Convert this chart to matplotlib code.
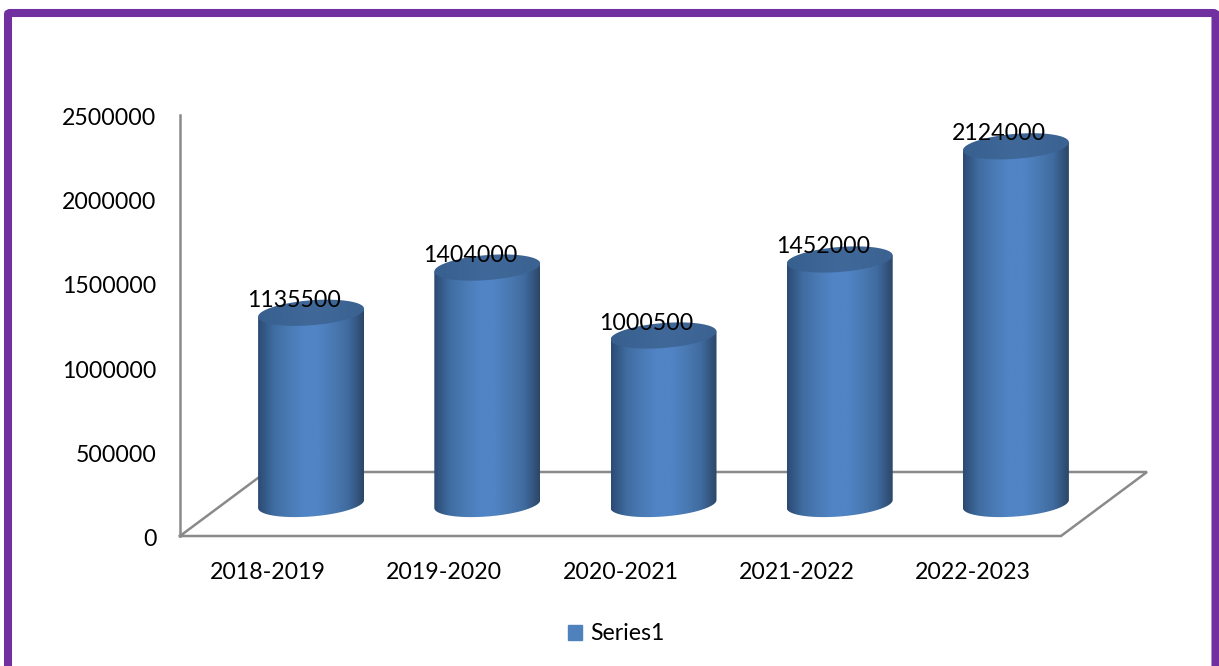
import numpy as np
import matplotlib
matplotlib.use('Agg')
import matplotlib.pyplot as plt
from matplotlib.colors import LinearSegmentedColormap
from matplotlib.patches import FancyBboxPatch, Patch, PathPatch
from matplotlib.path import Path
from matplotlib.transforms import ScaledTranslation

years = ['2018-2019', '2019-2020', '2020-2021', '2021-2022', '2022-2023']
values = [1135500, 1404000, 1000500, 1452000, 2124000]
y_ticks = [0, 500000, 1000000, 1500000, 2000000, 2500000]

W, H = 1219, 666
plt.rcParams['font.family'] = ['Lato', 'DejaVu Sans']
plt.rcParams['font.size'] = 16.7

fig = plt.figure(figsize=(W / 100, H / 100), dpi=100)
# axes run on past the front floor edge so the last bar is not cut
ax = fig.add_axes([180 / W, (H - 536) / H, 1000 / W, 421 / H])
ax.patch.set_alpha(0)

# purple frame, bottom edge runs off the page
frame = FancyBboxPatch((8 / W, -0.1), (1215.5 - 8) / W, 1.1 - 13 / H,
                       boxstyle='round,pad=0,rounding_size=0.002',
                       transform=fig.transFigure, fc='white', ec='#7030A0',
                       lw=5.8, zorder=-5)
fig.add_artist(frame)

# size of a pixel in data units
px_x = 5 / 881
px_y = 2500000 / 421
depth_x = 86 * px_x
depth_y = 64 * px_y
bar_w = 106 * px_x
cap_h = 12.5 * px_y
cap_tilt = 4 * px_y

# floor
floor_x = [-0.5, 4.5, 4.5 + depth_x, -0.5 + depth_x, -0.5]
floor_y = [0, 0, depth_y, depth_y, 0]
ax.plot(floor_x, floor_y, color='#8a8a8a', lw=1.8, clip_on=False, zorder=1,
        solid_joinstyle='miter')

body_cmap = LinearSegmentedColormap.from_list(
    'body', ['#2b4a73', '#3f6ba0', '#4a7ab4', '#5084c5', '#5084c5', '#4a79b2', '#3f6a9e', '#2c4668'])
cap_cmap = LinearSegmentedColormap.from_list('cap', ['#37608f', '#40699a', '#3b6291'])
grad = np.linspace(0, 1, 256).reshape(1, -1)

t_low = np.linspace(np.pi, 2 * np.pi, 80)
t_all = np.linspace(0, 2 * np.pi, 160)

for i, v in enumerate(values):
    cx = i + depth_x / 2
    base = depth_y / 2
    top = base + v
    a = bar_w / 2

    # side of the cylinder
    xs = cx + a * np.cos(t_low)
    ys_low = base + cap_h * np.sin(t_low) + cap_tilt * np.cos(t_low)
    ys_up = top + cap_tilt * np.cos(t_low[::-1])
    px = np.r_[xs, xs[::-1]]
    py = np.r_[ys_low, ys_up]
    clip = PathPatch(Path(np.c_[px, py]), transform=ax.transData, fc='none', ec='none')
    ax.add_patch(clip)
    im = ax.imshow(grad, cmap=body_cmap, aspect='auto', zorder=2,
                   extent=[cx - a, cx + a, base - 2 * cap_h, top + 2 * cap_h])
    im.set_clip_path(clip)

    # top of the cylinder
    cap_x = cx + a * np.cos(t_all)
    cap_y = top + cap_h * np.sin(t_all) + cap_tilt * np.cos(t_all)
    cap = PathPatch(Path(np.c_[cap_x, cap_y]), transform=ax.transData, fc='none', ec='none')
    ax.add_patch(cap)
    im2 = ax.imshow(grad, cmap=cap_cmap, aspect='auto', zorder=3,
                    extent=[cx - a, cx + a, top - 2 * cap_h, top + 2 * cap_h])
    im2.set_clip_path(cap)

    ax.annotate(str(v), (cx, top), xytext=(-17, 2), textcoords='offset pixels',
                ha='center', va='bottom', color='black', zorder=5, annotation_clip=False)

ax.set_xlim(-0.5, -0.5 + 1000 * px_x)
ax.set_ylim(0, 2500000)
ax.set_xticks(range(len(years)), years)
ax.set_yticks(y_ticks, [str(t) for t in y_ticks])
ax.tick_params(axis='both', length=0, colors='black')
ax.tick_params(axis='y', pad=17)
ax.tick_params(axis='x', pad=18.5)
# y labels sit a little lower in the original
shift = ScaledTranslation(0, -1.5 / 100, fig.dpi_scale_trans)
for lab in ax.get_yticklabels():
    lab.set_transform(lab.get_transform() + shift)
for side in ['top', 'right', 'bottom']:
    ax.spines[side].set_visible(False)
ax.spines['left'].set_color('#8a8a8a')
ax.spines['left'].set_linewidth(1.8)

handle = Patch(fc='#4F81BD', ec='#4F81BD', label='Series1')
fig.legend(handles=[handle], loc='center', bbox_to_anchor=(616 / W, (H - 634) / H),
           frameon=False, handlelength=0.6, handleheight=0.6, handletextpad=0.35,
           fontsize=16.7)

fig.savefig('out.png', dpi=100)
